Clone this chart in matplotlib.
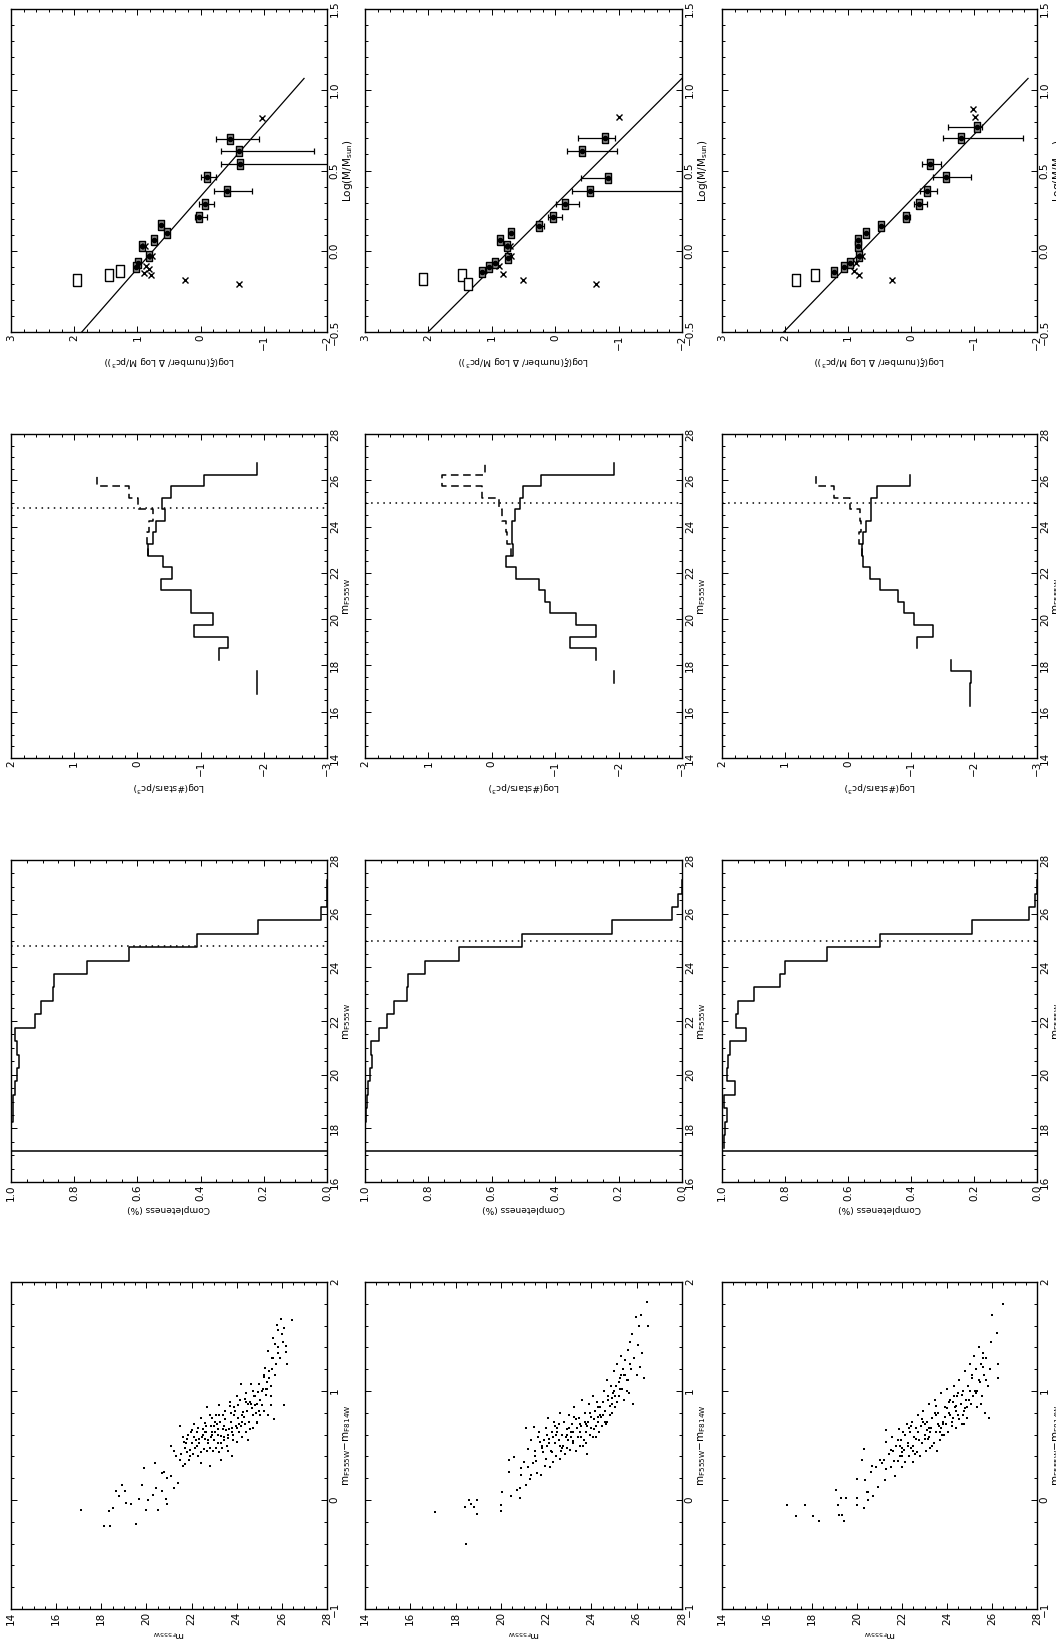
import numpy as np
import matplotlib
matplotlib.use('Agg')
import matplotlib.pyplot as plt
from matplotlib.ticker import MultipleLocator

nan = np.nan

# ---- mass functions: log(M/Msun) vs log xi, three fields ----
mf_a_logm = [0.695, 0.62, 0.54, 0.46, 0.375, 0.295, 0.21, 0.16, 0.11, 0.07, 0.03, -0.03, -0.07, -0.10]
mf_a_xi = [-0.46, -0.61, -0.62, -0.10, -0.42, -0.075, 0.03, 0.63, 0.53, 0.73, 0.93, 0.82, 0.99, 1.02]
mf_a_err_hi = [-0.25, -0.33, -0.33, 0.0, -0.21, 0.03, 0.09, nan, nan, nan, nan, nan, nan, nan]
mf_a_err_lo = [-0.93, -1.80, -2.5, -0.25, -0.81, -0.21, -0.10, nan, nan, nan, nan, nan, nan, nan]
mf_a_open_logm = [-0.18, -0.15, -0.12]
mf_a_open_xi = [1.96, 1.45, 1.28]
mf_a_x_logm = [0.825, 0.03, -0.03, -0.09, -0.11, -0.135, -0.15, -0.18, -0.20]
mf_a_x_xi = [-0.97, 0.88, 0.77, 0.86, 0.82, 0.90, 0.78, 0.24, -0.61]

mf_b_logm = [0.70, 0.62, 0.455, 0.37, 0.29, 0.21, 0.156, 0.11, 0.07, 0.03, -0.04, -0.07, -0.10, -0.13]
mf_b_xi = [-0.79, -0.42, -0.84, -0.545, -0.15, 0.04, 0.26, 0.69, 0.87, 0.76, 0.75, 0.95, 1.05, 1.15]
mf_b_err_hi = [-0.36, -0.19, -0.40, -0.26, -0.02, 0.11, 0.30, nan, nan, nan, nan, nan, nan, nan]
mf_b_err_lo = [-0.94, -0.98, -0.87, -2.5, -0.37, -0.11, 0.18, nan, nan, nan, nan, nan, nan, nan]
mf_b_open_logm = [-0.17, -0.15, -0.205]
mf_b_open_xi = [2.08, 1.47, 1.38]
mf_b_x_logm = [0.83, 0.03, -0.03, -0.09, -0.14, -0.18, -0.205]
mf_b_x_xi = [-1.0, 0.72, 0.70, 0.88, 0.83, 0.51, -0.64]

mf_c_logm = [0.77, 0.70, 0.54, 0.46, 0.37, 0.29, 0.21, 0.155, 0.11, 0.07, 0.03, -0.03, -0.07, -0.10, -0.13]
mf_c_xi = [-1.05, -0.80, -0.30, -0.55, -0.25, -0.12, 0.08, 0.48, 0.72, 0.84, 0.84, 0.83, 0.97, 1.07, 1.22]
mf_c_err_hi = [-0.59, -0.50, -0.17, -0.35, -0.14, -0.04, 0.13, nan, nan, nan, nan, nan, nan, nan, nan]
mf_c_err_lo = [-1.12, -1.78, -0.47, -0.96, -0.42, -0.25, 0.02, nan, nan, nan, nan, nan, nan, nan, nan]
mf_c_open_logm = [-0.18, -0.15]
mf_c_open_xi = [1.82, 1.52]
mf_c_x_logm = [0.88, 0.83, -0.03, -0.07, -0.12, -0.15, -0.18]
mf_c_x_xi = [-0.99, -1.02, 0.77, 0.88, 0.91, 0.82, 0.30]

# power-law fits: log xi = a + b log M, drawn over fit_range
fit_a = [0.76, 0.73, 0.785]
fit_b = [-2.24, -2.55, -2.47]
fit_range = [-0.5, 1.07]

# ---- luminosity functions and completeness, 0.5 mag bins ----
mag_edges = [16.25, 16.75, 17.25, 17.75, 18.25, 18.75, 19.25, 19.75, 20.25, 20.75, 21.25,
             21.75, 22.25, 22.75, 23.25, 23.75, 24.25, 24.75, 25.25, 25.75, 26.25, 26.75, 27.25]

lf_a_obs = [nan, -1.90, -1.90, nan, -1.29, -1.44, -0.90, -1.20, -0.85, -0.85, -0.38,
            -0.55, -0.40, -0.16, -0.25, -0.30, -0.44, -0.39, -0.53, -1.05, -1.90, nan]
lf_a_corr = [nan] * 13 + [-0.16, -0.15, -0.18, -0.24, -0.01, 0.14, 0.64, nan, nan]
lf_b_obs = [nan, nan, -1.93, nan, -1.64, -1.23, -1.64, -1.33, -0.92, -0.84, -0.75,
            -0.38, -0.22, -0.34, -0.32, -0.32, -0.37, -0.45, -0.49, -0.78, -1.93, nan]
lf_b_corr = [nan] * 13 + [-0.30, -0.24, -0.22, -0.16, -0.12, 0.16, 0.78, 0.10, nan]
lf_c_obs = [-1.94, -1.94, -1.96, -1.64, nan, -1.10, -1.35, -1.04, -0.89, -0.80, -0.51,
            -0.35, -0.24, -0.22, -0.24, -0.28, -0.36, -0.36, -0.46, -0.98, nan, nan]
lf_c_corr = [nan] * 13 + [-0.22, -0.17, -0.20, -0.19, -0.03, 0.22, 0.51, nan, nan]

comp_a = [nan, nan, 1.0, 1.0, 0.994, 0.994, 0.986, 0.981, 0.976, 0.981, 0.986,
          0.925, 0.904, 0.868, 0.865, 0.761, 0.627, 0.41, 0.218, 0.019, 0.0, 0.0]
comp_b = [nan, nan, 1.0, 1.0, 0.998, 0.993, 0.99, 0.984, 0.977, 0.981, 0.956,
          0.932, 0.91, 0.868, 0.864, 0.81, 0.703, 0.505, 0.22, 0.032, 0.013, 0.0]
comp_c = [nan, nan, 0.995, 0.99, 0.984, 0.995, 0.958, 0.984, 0.982, 0.976, 0.923,
          0.956, 0.949, 0.897, 0.815, 0.80, 0.667, 0.50, 0.206, 0.026, 0.006, 0.0]

mag_limit = [24.8, 25.0, 25.0]      # adopted completeness cut
mag_bright = [17.15, 17.15, 17.15]  # saturation limit

# ---- colour-magnitude diagrams ----
cmd_a_mag = [17.12, 18.10, 18.40, 18.36, 18.50, 18.67, 18.90, 19.07, 18.80, 19.10, 19.30, 19.55,
             19.65, 19.80, 19.90, 20.00, 20.07, 20.30, 20.40, 20.42, 20.50, 20.70, 20.70, 20.80,
             20.85, 20.90, 20.90, 21.10, 21.10, 21.20, 21.20, 21.30, 21.40, 21.50, 21.50, 21.60,
             21.65, 21.70, 21.80, 21.80, 21.90, 21.98, 22.05, 22.10, 22.20, 22.30, 22.40, 22.50,
             22.60, 22.60, 22.70, 22.80, 22.80, 22.90, 23.00, 23.00, 23.10, 23.20, 23.20, 23.30,
             23.30, 23.40, 23.45, 23.55, 23.60, 23.70, 23.80, 23.80, 23.90, 24.00, 24.06, 24.20,
             24.20, 24.30, 24.35, 24.40, 24.50, 24.60, 24.65, 24.70, 24.80, 24.90, 24.95, 25.00,
             25.10, 25.20, 25.25, 25.30, 25.40, 25.40, 25.50, 25.55, 25.60, 25.65, 25.70, 25.70,
             25.80, 25.85, 25.90, 25.95, 26.00, 26.10, 26.10, 26.20, 26.20, 26.25, 26.45,
             22.15, 22.25, 22.35, 22.45, 22.55, 22.65, 22.75, 22.85, 22.95, 23.05, 23.15, 23.25,
             23.35, 23.45, 23.50, 23.65, 23.75, 23.85, 23.95, 24.05, 24.10, 24.15, 24.25, 24.45,
             24.55, 24.75, 24.85, 25.05, 25.15, 25.35, 25.45, 25.75, 25.85, 26.05, 21.70, 21.85,
             22.00, 22.40, 22.70, 23.10, 23.60, 24.00, 24.40, 24.60, 24.90, 25.20, 25.50, 22.90,
             23.40, 23.90, 24.70, 23.15, 23.75, 24.25,
             21.55, 21.75, 21.95, 22.12, 22.28, 22.42, 22.58, 22.72, 22.88, 23.02, 23.18, 23.32,
             23.48, 23.62, 23.78, 23.92, 24.08, 24.22, 24.38, 24.52, 24.68, 24.82, 24.98, 25.12,
             25.28, 25.42, 25.58, 21.62, 21.92, 22.22, 22.52, 22.82, 23.12, 23.42, 23.72, 24.02,
             24.32, 24.62, 24.92, 25.22, 25.52, 25.82, 22.02, 22.32, 22.62, 22.92, 23.22, 23.52,
             23.82, 24.12, 24.42, 24.72, 25.02, 25.32, 25.62]
cmd_a_color = [-0.09, -0.24, -0.24, -0.10, -0.07, 0.08, 0.14, 0.08, 0.04, -0.03, -0.04, -0.22,
               0.01, 0.14, 0.29, -0.09, 0.00, 0.05, 0.34, 0.11, -0.09, 0.08, 0.25, 0.26,
               0.01, -0.04, 0.20, 0.22, 0.50, 0.11, 0.45, 0.40, 0.16, 0.68, 0.37, 0.31,
               0.53, 0.33, 0.56, 0.44, 0.37, 0.62, 0.42, 0.70, 0.55, 0.40, 0.34, 0.65,
               0.71, 0.56, 0.45, 0.31, 0.78, 0.62, 0.55, 0.68, 0.78, 0.87, 0.44, 0.37,
               0.59, 0.78, 0.68, 0.50, 0.45, 0.90, 0.40, 0.62, 0.78, 0.53, 0.87, 1.06,
               0.68, 0.81, 0.93, 0.62, 0.55, 0.90, 1.06, 0.78, 0.87, 0.71, 0.99, 1.06,
               0.87, 1.13, 1.21, 0.96, 0.78, 1.37, 0.87, 1.30, 1.49, 0.74, 1.15, 1.43,
               1.61, 1.56, 1.30, 1.66, 1.52, 0.87, 1.58, 1.41, 1.36, 1.25, 1.65,
               0.48, 0.62, 0.52, 0.58, 0.47, 0.62, 0.52, 0.68, 0.45, 0.62, 0.52, 0.72,
               0.48, 0.58, 0.82, 0.65, 0.72, 0.55, 0.68, 0.75, 0.62, 0.92, 0.72, 0.82,
               0.72, 0.95, 0.80, 0.92, 1.02, 1.08, 1.18, 1.25, 1.40, 1.45, 0.48, 0.60,
               0.52, 0.75, 0.85, 0.48, 0.60, 0.95, 0.98, 0.65, 0.88, 0.82, 1.05, 0.75,
               0.65, 0.85, 1.00, 0.65, 0.80, 0.58,
               0.42, 0.52, 0.46, 0.58, 0.66, 0.44, 0.62, 0.55, 0.58, 0.72, 0.60, 0.52,
               0.74, 0.57, 0.66, 0.82, 0.70, 0.78, 0.70, 0.88, 0.84, 0.95, 0.82, 1.00,
               1.02, 1.12, 1.20, 0.58, 0.40, 0.50, 0.60, 0.48, 0.70, 0.55, 0.86, 0.66,
               0.76, 0.88, 0.72, 1.15, 0.95, 1.35, 0.64, 0.56, 0.68, 0.60, 0.78, 0.64,
               0.60, 0.70, 0.90, 0.66, 0.78, 1.02, 1.30]

cmd_b_mag = [17.10, 18.40, 18.45, 18.60, 18.70, 18.80, 18.95, 18.95, 20.00, 20.00, 20.05,
             20.43, 20.35, 20.35, 20.60, 20.70, 20.84, 20.84, 20.91, 20.91, 21.09, 21.10, 21.20,
             21.28, 21.35, 21.43, 21.47, 21.57, 21.69, 21.72, 21.79, 21.87, 21.94, 22.09, 22.13,
             22.20, 22.25, 22.30, 22.35, 22.40, 22.45, 22.50, 22.55, 22.60, 22.65, 22.70, 22.75,
             22.80, 22.85, 22.90, 22.95, 23.00, 23.05, 23.10, 23.15, 23.20, 23.25, 23.30, 23.35,
             23.40, 23.45, 23.50, 23.55, 23.60, 23.65, 23.70, 23.75, 23.80, 23.85, 23.90, 23.95,
             24.00, 24.05, 24.10, 24.15, 24.20, 24.25, 24.30, 24.35, 24.40, 24.45, 24.50, 24.55,
             24.60, 24.65, 24.70, 24.75, 24.80, 24.85, 24.90, 24.95, 25.00, 25.05, 25.10, 25.15,
             25.20, 25.25, 25.30, 25.35, 25.40, 25.45, 25.50, 25.55, 25.60, 25.65, 25.70, 25.75,
             25.80, 25.85, 25.90, 25.95, 26.00, 26.05, 26.10, 26.15, 26.20, 26.25, 26.30, 26.45,
             26.50, 21.20, 21.50, 21.60, 21.80, 22.00, 22.05, 21.00, 21.35, 22.15, 22.40, 22.60,
             22.90, 23.20, 23.50, 23.75, 24.00, 24.30, 24.60, 24.90, 25.20,
             21.52, 21.66, 21.82, 21.98, 22.12, 22.28, 22.42, 22.58, 22.72, 22.88, 23.02, 23.18,
             23.32, 23.48, 23.62, 23.78, 23.92, 24.08, 24.22, 24.38, 24.52, 24.68, 24.82, 24.98,
             25.12, 25.28, 25.42, 25.58, 25.72, 22.02, 22.32, 22.62, 22.92, 23.22, 23.52, 23.82,
             24.12, 24.42, 24.72, 25.02, 25.32, 25.62, 21.90, 22.50, 23.10, 23.70, 24.30, 24.90,
             25.50]
cmd_b_color = [-0.11, -0.06, -0.40, 0.00, -0.04, -0.06, 0.00, -0.13, -0.05, -0.10, 0.07,
               0.04, 0.26, 0.37, 0.39, 0.09, 0.02, 0.11, 0.29, 0.23, 0.66, 0.14, 0.47,
               0.19, 0.23, 0.34, 0.67, 0.36, 0.62, 0.53, 0.23, 0.44, 0.31, 0.75, 0.56,
               0.45, 0.62, 0.35, 0.72, 0.52, 0.40, 0.66, 0.55, 0.80, 0.45, 0.60, 0.50,
               0.72, 0.42, 0.65, 0.55, 0.78, 0.46, 0.62, 0.70, 0.52, 0.85, 0.45, 0.66,
               0.58, 0.75, 0.50, 0.68, 0.92, 0.55, 0.80, 0.62, 0.42, 0.72, 0.88, 0.60,
               0.76, 0.95, 0.65, 0.82, 0.58, 0.90, 0.72, 0.62, 0.85, 0.68, 0.78, 1.00,
               0.82, 0.70, 1.10, 0.92, 0.78, 1.05, 0.88, 0.98, 1.18, 0.85, 1.05, 1.25,
               0.95, 1.12, 1.32, 1.02, 1.20, 0.92, 1.28, 1.10, 1.38, 0.98, 1.45, 1.20,
               1.52, 0.88, 1.30, 1.68, 1.15, 1.42, 1.60, 1.22, 1.70, 1.35, 1.12, 1.82,
               1.60, 0.30, 0.45, 0.25, 0.50, 0.38, 0.60, 0.35, 0.55, 0.30, 0.68, 0.38,
               0.48, 0.62, 0.70, 0.52, 0.66, 0.85, 0.72, 0.80, 1.08,
               0.40, 0.58, 0.48, 0.66, 0.52, 0.44, 0.60, 0.70, 0.48, 0.58, 0.66, 0.54,
               0.74, 0.62, 0.50, 0.70, 0.80, 0.58, 0.68, 0.78, 0.90, 0.72, 0.86, 1.00,
               0.90, 1.02, 1.15, 1.00, 1.25, 0.50, 0.58, 0.50, 0.60, 0.76, 0.58, 0.68,
               0.74, 0.76, 0.95, 0.95, 1.15, 1.10, 0.55, 0.62, 0.58, 0.72, 0.76, 0.94,
               1.15]

cmd_c_mag = [16.90, 17.30, 17.70, 18.05, 18.30, 19.05, 19.15, 19.20, 19.30, 19.35, 19.40, 19.50,
             20.00, 20.00, 20.00, 20.20, 20.30, 20.30, 20.35, 20.45, 20.50, 20.50, 20.60, 20.65,
             20.70, 20.85, 20.95, 21.00, 21.10, 21.20, 21.25, 21.30, 21.30, 21.30,
             21.40, 21.50, 21.55, 21.60, 21.70, 21.75, 21.80, 21.85, 21.90, 21.95, 22.00, 22.05,
             22.10, 22.15, 22.20, 22.25, 22.30, 22.35, 22.40, 22.45, 22.50, 22.55, 22.60, 22.65,
             22.70, 22.75, 22.80, 22.85, 22.90, 22.95, 23.00, 23.05, 23.10, 23.15, 23.20, 23.25,
             23.30, 23.35, 23.40, 23.45, 23.50, 23.55, 23.60, 23.65, 23.70, 23.75, 23.80, 23.85,
             23.90, 23.95, 24.00, 24.05, 24.10, 24.15, 24.20, 24.25, 24.30, 24.35, 24.40, 24.45,
             24.50, 24.55, 24.60, 24.65, 24.70, 24.75, 24.80, 24.85, 24.90, 24.95, 25.00, 25.05,
             25.10, 25.15, 25.20, 25.25, 25.30, 25.35, 25.40, 25.45, 25.50, 25.55, 25.60, 25.65,
             25.70, 25.75, 25.80, 25.85, 25.90, 25.95, 23.00, 23.50, 24.00, 24.50, 22.50, 22.00,
             23.25, 23.75, 24.25, 24.75, 26.00, 26.20, 26.25, 26.25, 26.50,
             21.52, 21.66, 21.82, 21.98, 22.12, 22.28, 22.42, 22.58, 22.72, 22.88, 23.02, 23.18,
             23.32, 23.48, 23.62, 23.78, 23.92, 24.08, 24.22, 24.38, 24.52, 24.68, 24.82, 24.98,
             25.12, 25.28, 25.42, 25.58, 25.72, 22.02, 22.32, 22.62, 22.92, 23.22, 23.52, 23.82,
             24.12, 24.42, 24.72, 25.02, 25.32, 25.62, 21.90, 22.50, 23.10, 23.70, 24.30, 24.90,
             25.50]
cmd_c_color = [-0.05, -0.15, -0.05, -0.15, -0.19, 0.09, -0.05, -0.14, 0.02, -0.14, -0.19, 0.02,
               0.19, 0.02, -0.05, 0.37, 0.47, -0.07, 0.18, 0.07, 0.00, 0.07, 0.26, 0.31,
               0.04, 0.30, 0.12, 0.37, 0.34, 0.37, 0.18, 0.64, 0.53, 0.28,
               0.42, 0.30, 0.58, 0.45, 0.22, 0.50, 0.36, 0.65, 0.40, 0.55, 0.30, 0.62,
               0.46, 0.35, 0.70, 0.52, 0.40, 0.62, 0.48, 0.72, 0.35, 0.58, 0.66, 0.44,
               0.78, 0.55, 0.40, 0.68, 0.52, 0.82, 0.60, 0.45, 0.72, 0.56, 0.88, 0.48,
               0.66, 0.75, 0.52, 0.92, 0.62, 0.45, 0.80, 0.68, 0.55, 0.98, 0.72, 0.60,
               0.85, 0.70, 1.02, 0.62, 0.80, 0.92, 0.68, 0.75, 1.05, 0.85, 0.66, 0.95,
               0.78, 1.10, 0.88, 0.70, 1.00, 0.82, 1.18, 0.92, 0.75, 1.05, 1.25, 0.88,
               1.12, 0.95, 1.32, 1.00, 1.20, 0.85, 1.40, 1.08, 1.25, 0.95, 1.35, 1.15,
               0.80, 1.30, 1.05, 0.75, 1.20, 1.45, 0.70, 0.78, 0.84, 0.98, 0.50, 0.48,
               0.62, 0.66, 0.90, 0.70, 1.70, 1.53, 1.25, 1.12, 1.80,
               0.46, 0.36, 0.55, 0.44, 0.60, 0.50, 0.68, 0.42, 0.62, 0.74, 0.56, 0.66,
               0.50, 0.80, 0.70, 0.60, 0.76, 0.90, 0.72, 0.82, 0.74, 0.96, 0.84, 0.92,
               1.15, 0.98, 1.10, 1.30, 1.10, 0.40, 0.66, 0.56, 0.72, 0.58, 0.86, 0.70,
               0.78, 0.86, 0.78, 1.00, 1.00, 1.22, 0.50, 0.45, 0.64, 0.62, 0.95, 0.85,
               0.88]

# ---- layout (pixels on a 1056 x 1648 canvas) ----
W, H = 1056.0, 1648.0
col_left = [11, 365, 722]
col_width = [316, 317, 315]
row_top = [9, 434, 860, 1282]
row_height = [323, 324, 322, 327]

plt.rcParams['font.family'] = 'DejaVu Sans'
plt.rcParams['mathtext.fontset'] = 'dejavusans'

fig = plt.figure(figsize=(W / 100, H / 100), dpi=100)
fig.patch.set_facecolor('white')


def make_panel(row, col, xlim, ylim, xmaj, xmin, ymaj, ymin, xlabel, ylabel):
    box = [col_left[col] / W, 1 - (row_top[row] + row_height[row]) / H,
           col_width[col] / W, row_height[row] / H]
    ax = fig.add_axes(box)
    ax.set_xlim(*xlim)
    ax.set_ylim(*ylim)
    ax.xaxis.set_major_locator(MultipleLocator(xmaj))
    ax.xaxis.set_minor_locator(MultipleLocator(xmin))
    ax.yaxis.set_major_locator(MultipleLocator(ymaj))
    ax.yaxis.set_minor_locator(MultipleLocator(ymin))
    ax.tick_params(which='both', direction='in', top=True, bottom=True, left=True, right=True,
                   labelleft=False, labelright=True, labelbottom=True, labeltop=False,
                   width=0.7, labelsize=7.5, pad=2)
    ax.tick_params(which='major', length=4.5)
    ax.tick_params(which='minor', length=2.2)
    ax.tick_params(axis='both', labelrotation=90)
    for t in ax.yaxis.get_major_ticks():
        t.label2.set_va('center')
    for s in ax.spines.values():
        s.set_linewidth(1.0)
    ax.yaxis.set_label_position('right')
    ax.set_ylabel(ylabel, rotation=90, fontsize=7.5, labelpad=1)
    ax.set_xlabel(xlabel, rotation=180, fontsize=6.5, labelpad=2)
    return ax


def steps(values, edges):
    v = np.asarray(values, float)
    e = np.asarray(edges, float)
    return np.repeat(v, 2), np.repeat(e, 2)[1:-1]


box_marker = [(-0.72, -1), (0.72, -1), (0.72, 1), (-0.72, 1), (-0.72, -1)]

mass_fields = [
    (mf_a_logm, mf_a_xi, mf_a_err_hi, mf_a_err_lo, mf_a_open_logm, mf_a_open_xi, mf_a_x_logm, mf_a_x_xi),
    (mf_b_logm, mf_b_xi, mf_b_err_hi, mf_b_err_lo, mf_b_open_logm, mf_b_open_xi, mf_b_x_logm, mf_b_x_xi),
    (mf_c_logm, mf_c_xi, mf_c_err_hi, mf_c_err_lo, mf_c_open_logm, mf_c_open_xi, mf_c_x_logm, mf_c_x_xi),
]
lf_fields = [(lf_a_obs, lf_a_corr), (lf_b_obs, lf_b_corr), (lf_c_obs, lf_c_corr)]
comp_fields = [comp_a, comp_b, comp_c]
cmd_fields = [(cmd_a_mag, cmd_a_color), (cmd_b_mag, cmd_b_color), (cmd_c_mag, cmd_c_color)]

m555 = r'm$_{\rm F555W}$'

for col in range(3):
    # mass function
    logm, xi, ehi, elo, ologm, oxi, xlogm, xxi = [np.asarray(a, float) for a in mass_fields[col]]
    ax = make_panel(0, col, (3, -2), (-0.5, 1.5), 1, 0.2, 0.5, 0.1,
                    r'Log($\xi$(number/ $\Delta$ Log M/pc$^3$))', r'Log(M/M$_{\rm sun}$)')
    lm = np.array(fit_range)
    ax.plot(fit_a[col] + fit_b[col] * lm, lm, color='black', lw=0.9)
    ax.errorbar(xi, logm, xerr=[xi - elo, ehi - xi], fmt='none', ecolor='black',
                elinewidth=0.9, capsize=2, capthick=0.9)
    ax.plot(xi, logm, ls='none', marker=box_marker, ms=7, mfc='0.55', mec='black', mew=1.0)
    ax.plot(xi, logm, ls='none', marker='o', ms=3, color='black')
    ax.plot(oxi, ologm, ls='none', marker=box_marker, ms=8, mfc='white', mec='black', mew=1.0)
    ax.plot(xxi, xlogm, ls='none', marker='x', ms=5, mew=1.0, color='black')

    # luminosity function
    obs, corr = lf_fields[col]
    ax = make_panel(1, col, (2, -3), (14, 28), 1, 0.2, 2, 0.5,
                    r'Log(#stars/pc$^3$)', m555)
    x, y = steps(corr, mag_edges)
    ax.plot(x, y, color='black', lw=1.1, ls=(0, (5, 3)))
    x, y = steps(obs, mag_edges)
    ax.plot(x, y, color='black', lw=1.1)
    ax.axhline(mag_limit[col], color='black', lw=1.1, ls=(0, (1, 3)))

    # completeness
    ax = make_panel(2, col, (1.0, 0.0), (16, 28), 0.2, 0.05, 2, 0.5,
                    'Completeness (%)', m555)
    x, y = steps(comp_fields[col], mag_edges)
    ax.plot(x, y, color='black', lw=1.1)
    ax.axhline(mag_limit[col], color='black', lw=1.1, ls=(0, (1, 3)))
    ax.axhline(mag_bright[col], color='black', lw=1.1)

    # colour-magnitude diagram
    mag, color = cmd_fields[col]
    ax = make_panel(3, col, (14, 28), (-1, 2), 2, 0.5, 1, 0.2,
                    m555, r'm$_{\rm F555W}$$-$m$_{\rm F814W}$')
    ax.plot(mag, color, ls='none', marker='s', ms=1.7, mew=0, color='black')

fig.savefig('out.png', dpi=100, facecolor='white')
